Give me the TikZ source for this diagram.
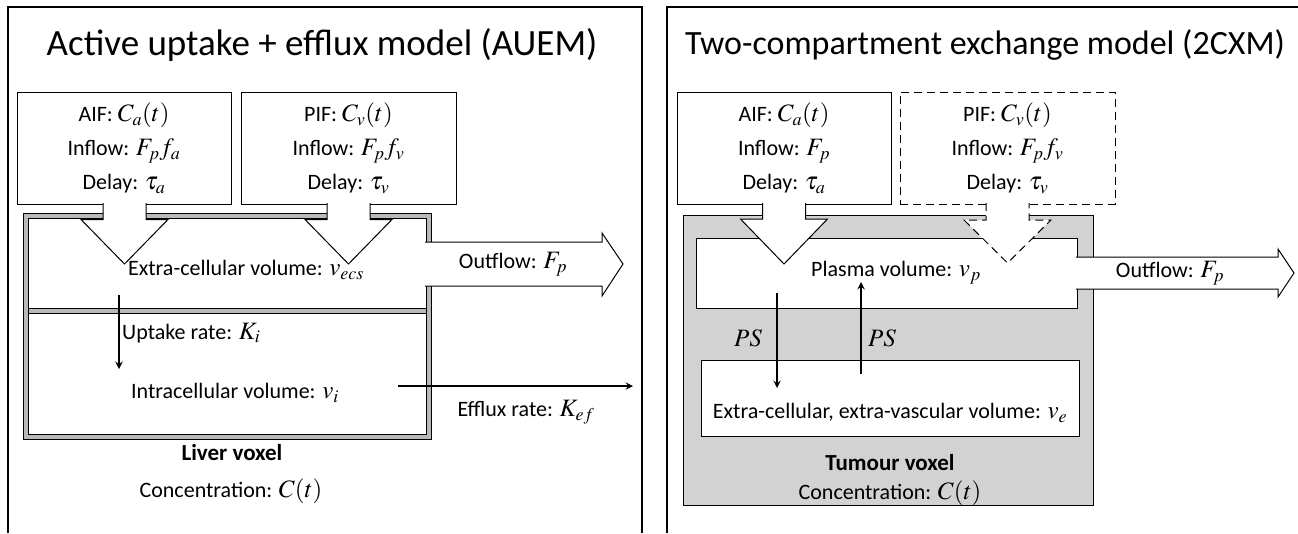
\documentclass[tikz,border=0pt]{standalone}
\usepackage{mathptmx}
\usepackage[no-math]{fontspec}
\setmainfont{Carlito}
\DeclareMathSizes{22}{25}{18}{14}
\usetikzlibrary{calc,positioning}
\tikzset{
  >=stealth,
  panelframe/.style={draw, line width=1.4pt},
  heading/.style={font=\fontsize{37}{40}\selectfont, inner sep=0pt},
  lbl/.style={font=\fontsize{22}{34}\selectfont, inner sep=0pt, align=center},
  voxlbl/.style={font=\fontsize{23}{34}\selectfont\bfseries, inner sep=0pt},
  infbox/.style={draw, line width=1pt, minimum height=112pt, inner sep=0pt,
    font=\fontsize{22}{34}\selectfont, align=center},
  pifdash/.style={dash pattern=on 8pt off 5pt},
  wall/.style={draw=black, double=gray!55, double distance=4pt, line width=0.9pt},
  inarrow/.style={draw, line width=1pt, fill=white},
  voxbox/.style={draw, line width=1pt, inner sep=0pt},
  flux/.style={->, line width=2.2pt}
}
\begin{document}
\begin{tikzpicture}[x=1pt,y=-1pt]
\useasboundingbox (0,0) rectangle (1298,533);

% left panel: AUEM
\draw[panelframe] (8,533) |- (642,7) -- (642,533);
\node[heading] (auemtitle) at (322,45) {Active uptake + efflux model (AUEM)};

\node[infbox, minimum width=214pt] (aifL) at (124,148)
  {AIF: $C_a(t)$\\Inflow: $F_pf_a$\\Delay: $\tau_a$};
\node[infbox, minimum width=215pt] (pifL) at (348.5,148)
  {PIF: $C_v(t)$\\Inflow: $F_pf_v$\\Delay: $\tau_v$};

\draw[wall] (103,216) -- (26,216) -- (26,437) -- (429,437) -- (429,286);
\draw[wall] (429,242) -- (429,216) -- (370,216);
\draw[wall] (327,216) -- (146,216);
\draw[wall] (28.9,311) -- (426.1,311);

\draw[inarrow] (103,203) -- (103,219.5) -- (81,219.5) -- (124.5,264)
  -- (168,219.5) -- (146,219.5) -- (146,203);
\draw[inarrow] (327,203) -- (327,219.5) -- (305,219.5) -- (348.5,264)
  -- (392,219.5) -- (370,219.5) -- (370,203);
\draw[inarrow] (425,242) -- (602,242) -- (602,233) -- (623,264)
  -- (602,296) -- (602,286) -- (425,286);

\node[lbl] (ecsL) at (246,270) {Extra-cellular volume: $v_{ecs}$};
\node[lbl] (outL) at (513,264) {Outflow: $F_p$};

\coordinate (upS) at (119,295);
\coordinate (upE) at (119,369);
\draw[flux] (upS) -- (upE);
\node[lbl, anchor=west] (uptake) at (122,333) {Uptake rate: $K_i$};
\node[lbl] (icL) at (235,393) {Intracellular volume: $v_i$};

\coordinate (efS) at (398,386);
\coordinate (efE) at (633,386);
\draw[flux] (efS) -- (efE);
\node[lbl] (efflux) at (526,412) {Efflux rate: $K_{ef}$};

\node[voxlbl] (liver) at (232,453) {Liver voxel};
\node[lbl] (concL) at (231,491) {Concentration: $C(t)$};

% right panel: 2CXM
\draw[panelframe] (667,533) |- (1298,7);
\node[heading, font=\fontsize{34}{38}\selectfont] (cxmtitle) at (985,45)
  {Two-compartment exchange model (2CXM)};

\node[voxbox, fill=gray!35, minimum width=410pt, minimum height=290pt] (tumour) at (888,360) {};
\node[voxbox, fill=white, minimum width=381pt, minimum height=70pt] (plasma) at (886.5,273) {};
\node[voxbox, fill=white, minimum width=378pt, minimum height=76pt] (ees) at (890,398) {};

\node[infbox, minimum width=214pt] (aifR) at (784,148)
  {AIF: $C_a(t)$\\Inflow: $F_p$\\Delay: $\tau_a$};
\node[infbox, pifdash, minimum width=215pt] (pifR) at (1007.5,148)
  {PIF: $C_v(t)$\\Inflow: $F_pf_v$\\Delay: $\tau_v$};

\draw[inarrow] (762.5,203) -- (762.5,219) -- (740.5,219) -- (784,264)
  -- (827.5,219) -- (805.5,219) -- (805.5,203);
\draw[inarrow, pifdash] (986,203) -- (986,220) -- (964,220) -- (1007.5,263)
  -- (1051,220) -- (1029,220) -- (1029,203);
\draw[inarrow] (1076,257) -- (1278,257) -- (1278,249) -- (1294,273)
  -- (1278,297) -- (1278,289) -- (1076,289);

\node[lbl] (plasmatxt) at (896,273) {Plasma volume: $v_p$};
\node[lbl] (outR) at (1170,273) {Outflow: $F_p$};

\coordinate (psdS) at (777,293);
\coordinate (psdE) at (777,388);
\coordinate (psuS) at (861,374);
\coordinate (psuE) at (861,282);
\draw[flux] (psdS) -- (psdE);
\draw[flux] (psuS) -- (psuE);
\node[lbl, font=\fontsize{25}{30}\selectfont] (psd) at (748,338) {$PS$};
\node[lbl, font=\fontsize{25}{30}\selectfont] (psu) at (882,338) {$PS$};

\node[lbl] (eestxt) at (890,413) {Extra-cellular, extra-vascular volume: $v_e$};
\node[voxlbl] (tvoxel) at (890,463) {Tumour voxel};
\node[lbl] (concR) at (890,493) {Concentration: $C(t)$};
\end{tikzpicture}
\end{document}
